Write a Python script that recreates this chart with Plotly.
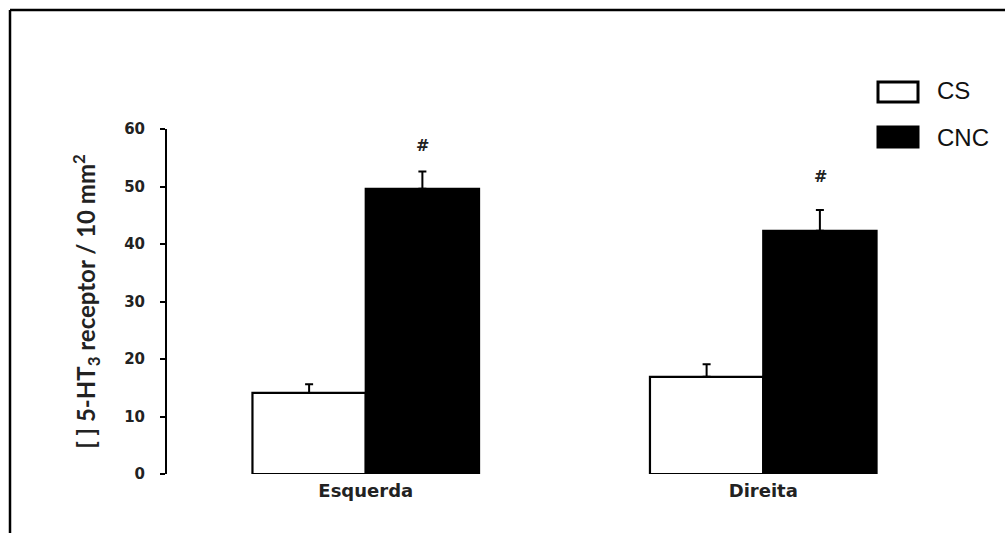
import plotly.graph_objects as go

categories = ["Esquerda", "Direita"]
cs_values = [14.1, 16.9]
cs_err = [1.5, 2.2]
cnc_values = [49.6, 42.3]
cnc_err = [3.0, 3.6]
sig_labels = ["#", "#"]
sig_y = [57.2, 51.7]
y_ticks = [0, 10, 20, 30, 40, 50, 60]

W, H = 1005, 533
ML, MR, MT, MB = 167, 43, 129, 59
PW, PH = W - ML - MR, H - MT - MB

def px_x(p):
    return (p - ML) / PW

def px_y(p):
    return (H - MB - p) / PH

fig = go.Figure()
fig.add_trace(go.Bar(
    x=categories, y=cs_values, name="CS",
    marker=dict(color="white", line=dict(color="black", width=2.2)),
    error_y=dict(type="data", symmetric=False, array=cs_err, arrayminus=[0, 0],
                 color="black", thickness=2, width=4),
))
fig.add_trace(go.Bar(
    x=categories, y=cnc_values, name="CNC",
    marker=dict(color="black", line=dict(color="black", width=2.2)),
    error_y=dict(type="data", symmetric=False, array=cnc_err, arrayminus=[0, 0],
                 color="black", thickness=2, width=4),
))

annotations = []
for cat, lab, yy in zip(categories, sig_labels, sig_y):
    annotations.append(dict(x=cat, y=yy, xref="x", yref="y", text="<b>%s</b>" % lab, showarrow=False,
                            xshift=57, font=dict(family="DejaVu Sans", size=16, color="#222"),
                            xanchor="center", yanchor="middle"))

# legend drawn manually
leg_items = [("CS", "white", 92, 90), ("CNC", "black", 137, 137)]
shapes = []
for name, col, yc, ytxt in leg_items:
    shapes.append(dict(type="rect", xref="paper", yref="paper",
                       x0=px_x(878), x1=px_x(918), y0=px_y(yc + 10), y1=px_y(yc - 10),
                       fillcolor=col, line=dict(color="black", width=3)))
    annotations.append(dict(x=px_x(935), y=px_y(ytxt), xref="paper", yref="paper", text=name,
                            showarrow=False, xanchor="left", yanchor="middle",
                            font=dict(family="Liberation Sans", size=24, color="#111")))

# outer frame (top and left edges)
shapes.append(dict(type="line", xref="paper", yref="paper", x0=px_x(10), x1=px_x(1010),
                   y0=px_y(10), y1=px_y(10), line=dict(color="black", width=2.5)))
shapes.append(dict(type="line", xref="paper", yref="paper", x0=px_x(10), x1=px_x(10),
                   y0=px_y(10), y1=px_y(540), line=dict(color="black", width=2.5)))

fig.update_layout(
    width=W, height=H,
    margin=dict(l=ML, r=MR, t=MT, b=MB),
    paper_bgcolor="white", plot_bgcolor="white",
    barmode="group", bargap=0.43, bargroupgap=0,
    showlegend=False,
    shapes=shapes, annotations=annotations,
    xaxis=dict(range=[-0.5, 1.5], showline=False, showgrid=False, zeroline=False, ticks="",
               tickfont=dict(family="DejaVu Sans", size=18, color="#222", weight="bold"),
               ticklabelstandoff=4),
    yaxis=dict(range=[0, 60], tickvals=y_ticks, showline=True, linecolor="black", linewidth=2,
               ticks="outside", ticklen=5, tickwidth=2, tickcolor="black",
               showgrid=False, zeroline=False,
               tickfont=dict(family="DejaVu Sans", size=15, color="#222", weight="bold"),
               ticklabelstandoff=12,
               title=dict(text="<b>[ ] 5-HT<sub>3</sub> receptor / 10 mm<sup>2</sup></b>",
                          font=dict(family="Lato", size=24, color="#222"), standoff=22)),
)

fig.write_html("out.html", post_script="document.body.style.margin='0';",
               config={"displayModeBar": False})
